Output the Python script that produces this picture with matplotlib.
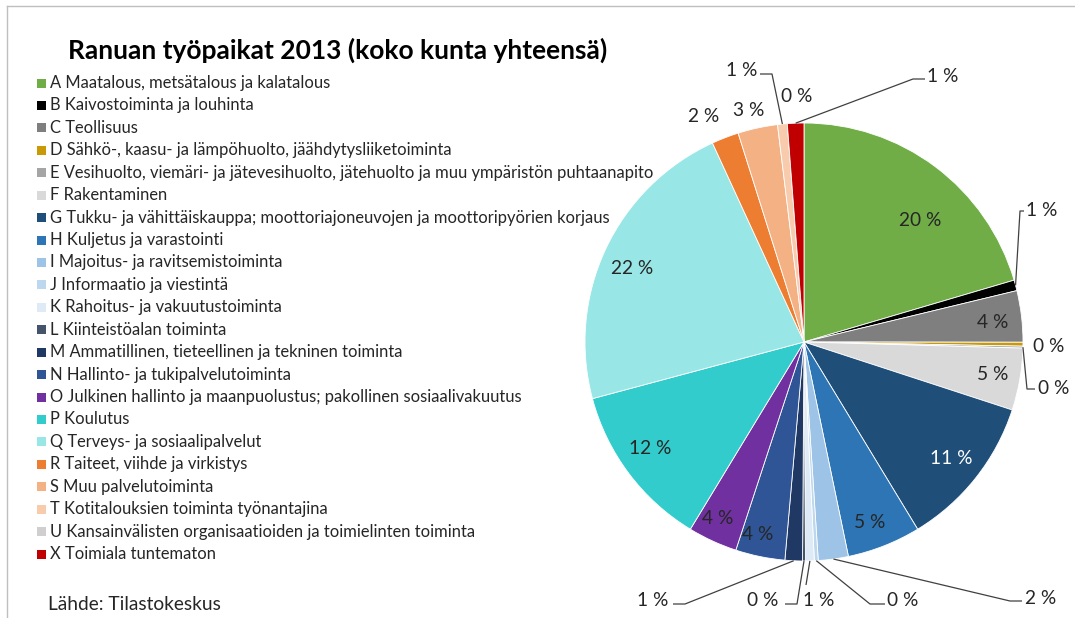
import matplotlib
matplotlib.use("Agg")
import matplotlib.pyplot as plt
from matplotlib.patches import Rectangle
from matplotlib.lines import Line2D
import numpy as np

plt.rcParams['font.family'] = ['Lato', 'DejaVu Sans']

# Industry sections (TOL 2008) and number of jobs in Ranua, 2013
codes = ["A", "B", "C", "D", "E", "F", "G", "H", "I", "J", "K",
         "L", "M", "N", "O", "P", "Q", "R", "S", "T", "U", "X"]
names = [
    "Maatalous, metsätalous ja kalatalous",
    "Kaivostoiminta ja louhinta",
    "Teollisuus",
    "Sähkö-, kaasu- ja lämpöhuolto, jäähdytysliiketoiminta",
    "Vesihuolto, viemäri- ja jätevesihuolto, jätehuolto ja muu ympäristön puhtaanapito",
    "Rakentaminen",
    "Tukku- ja vähittäiskauppa; moottoriajoneuvojen ja moottoripyörien korjaus",
    "Kuljetus ja varastointi",
    "Majoitus- ja ravitsemistoiminta",
    "Informaatio ja viestintä",
    "Rahoitus- ja vakuutustoiminta",
    "Kiinteistöalan toiminta",
    "Ammatillinen, tieteellinen ja tekninen toiminta",
    "Hallinto- ja tukipalvelutoiminta",
    "Julkinen hallinto ja maanpuolustus; pakollinen sosiaalivakuutus",
    "Koulutus",
    "Terveys- ja sosiaalipalvelut",
    "Taiteet, viihde ja virkistys",
    "Muu palvelutoiminta",
    "Kotitalouksien toiminta työnantajina",
    "Kansainvälisten organisaatioiden ja toimielinten toiminta",
    "Toimiala tuntematon",
]
jobs = [286, 11, 53, 4, 2, 64, 158, 76, 31, 4, 9,
        3, 18, 51, 51, 170, 312, 28, 41, 10, 0, 17]
colors = ["#70AD47", "#000000", "#7F7F7F", "#C99A06", "#A5A5A5", "#D9D9D9",
          "#1F4E79", "#2E75B6", "#9DC3E6", "#BDD7EE", "#DEEBF7", "#44546A",
          "#203864", "#2F5597", "#7030A0", "#33CCCC", "#99E6E6", "#ED7D31",
          "#F4B183", "#F8CBAD", "#D0CECE", "#C00000"]

title = "Ranuan työpaikat 2013 (koko kunta yhteensä)"
source = "Lähde: Tilastokeskus"

TXT = "#262626"
W, H = 1075, 618
fig = plt.figure(figsize=(W / 100, H / 100), dpi=100)
fig.patch.set_facecolor("white")


def fx(px):
    return px / W


def fy(py):
    return 1 - py / H


# chart-area frame (top and left edges fall inside the canvas)
fig.add_artist(Line2D([fx(7), 1.0], [fy(6), fy(6)], color="#BFBFBF", lw=1))
fig.add_artist(Line2D([fx(7), fx(7)], [fy(6), 0.0], color="#BFBFBF", lw=1))

fig.text(fx(338), fy(50), title, ha="center", va="center",
         fontsize=19, fontweight="bold", color="black")

# legend
y0, dy = 83, 22.43
for i, (c, n, col) in enumerate(zip(codes, names, colors)):
    yy = y0 + i * dy
    fig.add_artist(Rectangle((fx(37), fy(yy + 4.5)), 9 / W, 9 / H,
                             facecolor=col, edgecolor="none"))
    fig.text(fx(50), fy(yy), f"{c} {n}", ha="left", va="center",
             fontsize=11.9, color=TXT)

fig.text(fx(48), fy(605), source, ha="left", va="center",
         fontsize=13.8, color=TXT)

# pie
cx, cy, R = 804, 342, 219
ax = fig.add_axes([fx(cx - R), fy(cy + R), 2 * R / W, 2 * R / H])
wedges, _ = ax.pie(jobs, colors=colors, startangle=90, counterclock=False,
                   radius=1.0,
                   wedgeprops=dict(edgecolor="white", linewidth=0.6))
ax.set_xlim(-1, 1)
ax.set_ylim(-1, 1)
ax.axis("off")

total = sum(jobs)
pcts = [100.0 * v / total for v in jobs]
labels = [f"{p:.0f} %" for p in pcts]


def d(px, py):
    return ((px - cx) / R, (cy - py) / R)


def edge_point(w, r=1.0):
    a = np.deg2rad(0.5 * (w.theta1 + w.theta2))
    return (r * np.cos(a), r * np.sin(a))


LFS = 13.8
# labels placed inside or next to their wedge
inside = {
    "A": (920, 221), "C": (993, 322), "F": (993, 375), "G": (951, 459),
    "H": (870, 523), "N": (758, 535), "O": (718, 518), "P": (650, 449),
    "Q": (632, 268), "R": (704, 117), "S": (749, 110), "U": (797, 97),
    "D": (1049, 346),
}
label_colors = {"G": "white"}
for c, (px, py) in inside.items():
    i = codes.index(c)
    x, y = d(px, py)
    ax.text(x, y, labels[i], ha="center", va="center", fontsize=LFS,
            color=label_colors.get(c, TXT), clip_on=False)

# labels connected with leader lines: text anchor, alignment, bend points
leaders = {
    "B": ((1026, 211), "left", [(1020, 211), (1024, 211)]),
    "E": ((1038, 389), "left", [(1027, 389), (1035, 389)]),
    "X": ((927, 76), "left", [(913, 79), (925, 79)]),
    "T": ((757, 71), "right", [(772, 74), (760, 74)]),
    "I": ((1025, 598), "left", [(1010, 601), (1022, 601)]),
    "J": ((887, 601), "left", [(870, 604), (885, 604)]),
    "K": ((803, 601), "left", [(806, 585)]),
    "L": ((778, 601), "right", [(797, 604), (785, 604)]),
    "M": ((668, 601), "right", [(685, 604), (673, 604)]),
}
for c, ((tx, ty), ha, pts) in leaders.items():
    i = codes.index(c)
    start = edge_point(wedges[i])
    path = [start] + [d(px, py) for px, py in pts]
    xs, ys = zip(*path)
    ax.plot(xs, ys, color="#404040", lw=0.9, clip_on=False,
            solid_capstyle="butt")
    x, y = d(tx, ty)
    ax.text(x, y, labels[i], ha=ha, va="center", fontsize=LFS, color=TXT,
            clip_on=False)

fig.savefig("out.png", dpi=100)
